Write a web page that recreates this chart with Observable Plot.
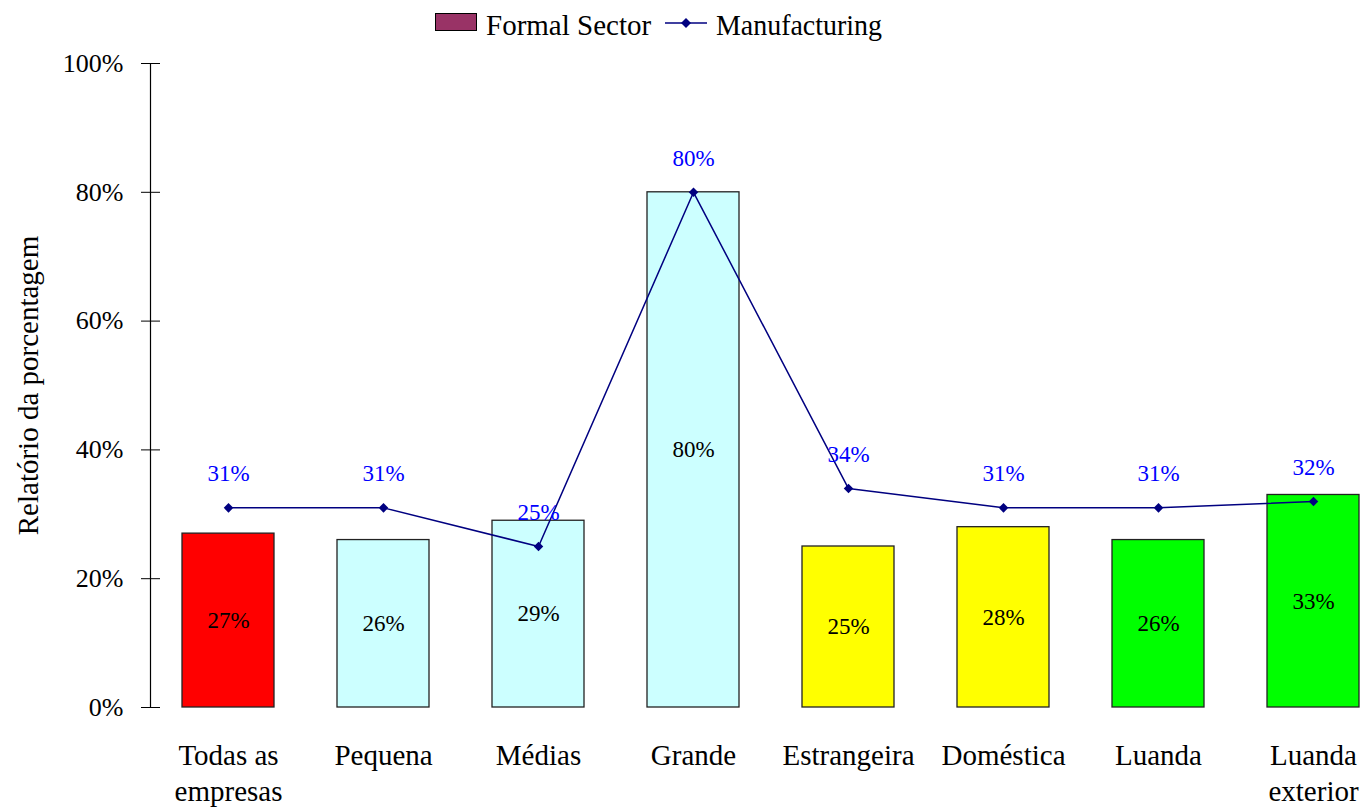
<!DOCTYPE html>
<html>
<head>
<meta charset="utf-8">
<script src="https://cdn.jsdelivr.net/npm/d3@7"></script>
<script src="https://cdn.jsdelivr.net/npm/@observablehq/plot@0.6"></script>
<style>
  html, body { margin: 0; padding: 0; background: #fff; }
  #wrap { position: relative; width: 1364px; height: 811px; font-family: "Liberation Serif", "Times New Roman", serif; }
  #legend { position: absolute; left: 0; top: 0; }
  #chart { position: absolute; left: 0; top: 0; }
</style>
</head>
<body>
<div id="wrap">
  <div id="chart"></div>
  <svg id="legend" width="1364" height="45" font-family="'Liberation Serif', 'Times New Roman', serif" font-size="29">
    <rect x="435.5" y="13.5" width="41" height="17" fill="#993366" stroke="#000" stroke-width="1"/>
    <text x="486" y="35" fill="#000">Formal Sector</text>
    <line x1="665" y1="23" x2="707" y2="23" stroke="#000080" stroke-width="1.5"/>
    <path d="M686,18 L691,23 L686,28 L681,23 Z" fill="#000080"/>
    <text x="716" y="35" fill="#000" textLength="166" lengthAdjust="spacingAndGlyphs">Manufacturing</text>
  </svg>
</div>
<script>
const categories = ["Todas as\nempresas", "Pequena", "Médias", "Grande", "Estrangeira", "Doméstica", "Luanda", "Luanda\nexterior"];
const formalSector = [0.27, 0.26, 0.29, 0.80, 0.25, 0.28, 0.26, 0.33];
const manufacturing = [0.31, 0.31, 0.25, 0.80, 0.34, 0.31, 0.31, 0.32];
const barColors = ["#ff0000", "#ccffff", "#ccffff", "#ccffff", "#ffff00", "#ffff00", "#00ff00", "#00ff00"];
const yTicks = [0, 0.2, 0.4, 0.6, 0.8, 1.0];

const bars = categories.map((c, i) => ({cat: c, value: formalSector[i], color: barColors[i]}));
const line = categories.map((c, i) => ({cat: c, value: manufacturing[i]}));
const pct = v => Math.round(v * 100) + "%";

const chart = Plot.plot({
  width: 1364,
  height: 811,
  marginTop: 63,
  marginBottom: 104,
  marginLeft: 150,
  marginRight: 0,
  style: {fontFamily: "'Liberation Serif', 'Times New Roman', serif", fontSize: "24px", color: "#000", background: "transparent", overflow: "visible"},
  x: {domain: categories, range: [150, 1391], paddingInner: 0.406, paddingOuter: 0.206},
  y: {domain: [0, 1]},
  color: {type: "identity"},
  marks: [
    Plot.barY(bars, {x: "cat", y: "value", fill: "color", stroke: "#222", strokeWidth: 1.3}),
    Plot.text(bars, {x: "cat", y: d => d.value / 2, text: d => pct(d.value), fill: "#000", fontSize: 23}),
    Plot.line(line, {x: "cat", y: "value", stroke: "#000080", strokeWidth: 1.5}),
    Plot.dot(line, {x: "cat", y: "value", symbol: "diamond2", r: 4.3, fill: "#000080", stroke: "none"}),
    Plot.text(line, {x: "cat", y: "value", text: d => pct(d.value), fill: "#0000ff", fontSize: 23, dy: -34}),
    Plot.ruleX([categories[0]], {x: d => d, y1: 0, y2: 1, dx: -78, stroke: "#000", strokeWidth: 1.2}),
    Plot.axisY({ticks: yTicks, tickFormat: d => pct(d), tickSize: 9, tickPadding: 18, fontSize: 26, label: null}),
    Plot.axisY({ticks: yTicks, tickFormat: () => "", tickSize: -10, label: null}),
    Plot.axisX({tickSize: 0, tickPadding: 32, fontSize: 29, lineHeight: 1.25, label: null}),
    Plot.text(["Relatório da porcentagem"], {frameAnchor: "left", textAnchor: "middle", dx: -122, rotate: -90, fontSize: 29, fill: "#000"})
  ]
});
document.getElementById("chart").appendChild(chart);
</script>
</body>
</html>
